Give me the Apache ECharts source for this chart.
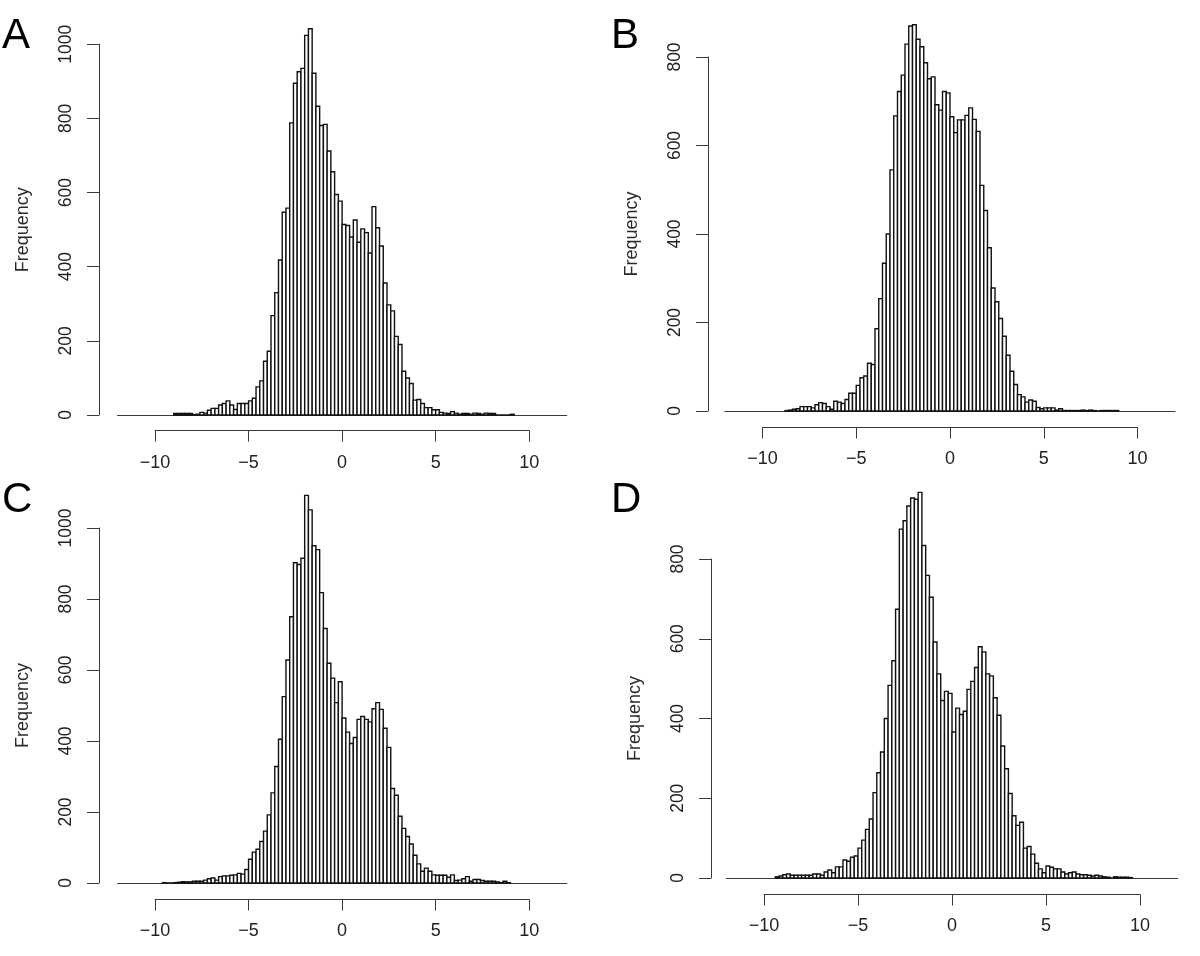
<!DOCTYPE html>
<html><head><meta charset="utf-8">
<script src="https://cdn.jsdelivr.net/npm/echarts@6/dist/echarts.min.js"></script>
<style>html,body{margin:0;padding:0;background:#fff}#c{width:1200px;height:956px}</style>
</head><body><div id="c"></div>
<script>
// ---------------- DATA ----------------
const binWidth = 0.2;
const xTicks = [-10, -5, 0, 5, 10];
const yTickStep = 200;
const yAxisTitle = 'Frequency';
const panelLetters = ['A', 'B', 'C', 'D'];
const yTickMax = [1000, 800, 1000, 800];

const startA = -9.0;
const countsA = [4,4,4,4,4,1,2,7,5,13,18,18,27,31,38,27,15,31,31,31,38,45,76,92,145,172,268,330,418,547,558,788,895,926,935,1024,1042,922,833,781,784,712,656,595,577,514,511,480,526,466,502,492,437,562,505,456,356,297,281,212,190,118,100,85,40,42,31,20,20,14,14,7,5,4,9,5,2,4,4,2,5,4,2,5,4,4,0,0,0,0,2];

const startB = -8.8;
const countsB = [1,2,4,5,10,10,10,7,14,19,17,10,4,22,20,17,26,40,40,58,75,79,108,105,186,254,334,400,545,667,722,759,829,870,873,840,823,787,751,755,692,680,722,719,665,629,658,658,668,685,659,632,510,453,369,278,247,209,169,126,90,60,37,32,20,25,22,8,5,7,7,7,2,5,1,1,1,1,1,2,1,2,1,0,1,1,1,1,1];

const startC = -9.6;
const countsC = [1,0,0,1,2,4,3,3,5,5,5,8,12,14,8,18,20,20,22,23,27,25,38,67,87,95,117,146,192,254,328,405,525,628,750,902,897,915,1092,1051,950,939,818,717,619,577,508,567,465,425,393,410,461,469,461,454,491,508,489,436,382,266,247,188,154,131,110,78,54,33,42,33,23,22,22,22,16,23,7,8,12,18,5,10,10,7,5,5,5,3,1,5,1];

const startD = -9.4;
const countsD = [3,5,8,10,7,7,7,7,7,7,10,10,7,15,20,13,28,28,45,42,52,55,75,95,122,148,214,264,316,400,483,545,674,875,896,933,953,950,967,834,759,704,592,512,445,468,463,366,426,410,418,473,493,528,580,567,512,507,452,408,331,274,212,156,132,140,75,79,60,37,23,13,30,27,23,23,15,10,13,15,10,8,8,7,5,7,5,3,2,0,3,2,2,2,1];

const panelStarts = [startA, startB, startC, startD];
const panelCounts = [countsA, countsB, countsC, countsD];

// ---------------- LAYOUT ----------------
const layout = [
  {left:117.6, right:566.6, top:44.3, bottom:415, yAxisX:99,  xAxisY:430.7, lx:2,   ly:15},
  {left:725,   right:1175,  top:57,   bottom:411, yAxisX:708, xAxisY:427.5, lx:611, ly:15},
  {left:117.6, right:566.6, top:528,  bottom:883, yAxisX:99,  xAxisY:899.5, lx:2,   ly:479},
  {left:726.4, right:1177.6,top:559,  bottom:878, yAxisX:711, xAxisY:894.5, lx:611, ly:479}
];

const FONT = '"Liberation Sans", Arial, sans-serif';
const LINE = '#3a3a3a';
const TEXT = '#222222';

const grids = [], xAxes = [], yAxes = [], series = [], graphics = [];

panelCounts.forEach((counts, i) => {
  const L = layout[i];
  const w = L.right - L.left, h = L.bottom - L.top;
  const ppu = w / 24;
  const gBar = grids.length;
  grids.push({left: L.left, top: L.top, width: w, height: h});
  xAxes.push({
    gridIndex: gBar, type: 'value', min: -12, max: 12,
    axisLine: {show: true, onZero: false, lineStyle: {color: LINE, width: 1.2}},
    axisTick: {show: false}, axisLabel: {show: false}, splitLine: {show: false}
  });
  yAxes.push({
    gridIndex: gBar, type: 'value', min: 0, max: yTickMax[i], interval: yTickStep,
    offset: L.left - L.yAxisX,
    axisLine: {show: true, onZero: false, lineStyle: {color: LINE, width: 1}},
    axisTick: {show: true, length: 12, lineStyle: {color: LINE, width: 1}},
    axisLabel: {rotate: 90, margin: 24, fontSize: 17.5, color: TEXT, fontFamily: FONT,
                formatter: v => String(v)},
    splitLine: {show: false},
    name: yAxisTitle, nameLocation: 'middle', nameGap: 67,
    nameTextStyle: {fontSize: 18, color: '#2a2a2a', fontFamily: FONT}
  });
  // separate R-style x axis spanning only the tick range
  const gAx = grids.length;
  grids.push({left: L.left + (xTicks[0] + 12) * ppu, top: L.top,
              width: (xTicks[xTicks.length - 1] - xTicks[0]) * ppu, height: h});
  xAxes.push({
    gridIndex: gAx, type: 'value', min: xTicks[0], max: xTicks[xTicks.length - 1], interval: 5,
    offset: L.xAxisY - L.bottom,
    axisLine: {show: true, onZero: false, lineStyle: {color: LINE, width: 1}},
    axisTick: {show: true, length: 11, lineStyle: {color: LINE, width: 1}},
    axisLabel: {margin: 23, fontSize: 18, color: TEXT, fontFamily: FONT,
                formatter: v => String(v).replace('-', '\u2212')},
    splitLine: {show: false}
  });
  yAxes.push({gridIndex: gAx, type: 'value', show: false, min: 0, max: 1});

  const start = panelStarts[i];
  const data = counts.map((c, k) => {
    const x0 = Math.round((start + k * binWidth) * 10) / 10;
    return [x0, Math.round((x0 + binWidth) * 10) / 10, c];
  });
  series.push({
    type: 'custom', xAxisIndex: gBar, yAxisIndex: gBar, clip: false,
    encode: {x: [0, 1], y: 2},
    data: data,
    renderItem: (params, api) => {
      const p0 = api.coord([api.value(0), 0]);
      const p1 = api.coord([api.value(1), api.value(2)]);
      return {
        type: 'rect',
        shape: {x: p0[0], y: p1[1], width: p1[0] - p0[0], height: p0[1] - p1[1]},
        style: {fill: '#ffffff', stroke: '#111111', lineWidth: 1.4}
      };
    }
  });

  graphics.push({
    type: 'text', left: L.lx, top: L.ly,
    style: {text: panelLetters[i], font: '42px ' + FONT, fill: '#000'}
  });
});

const chart = echarts.init(document.getElementById('c'), null, {renderer: 'canvas'});
chart.setOption({
  backgroundColor: '#ffffff',
  animation: false,
  grid: grids, xAxis: xAxes, yAxis: yAxes, series: series, graphic: graphics
});
</script>
</body></html>
